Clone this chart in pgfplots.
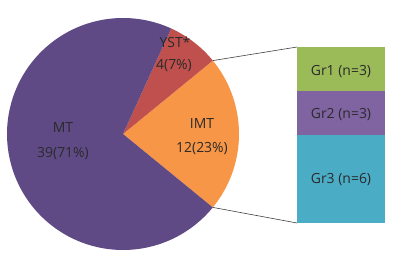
\documentclass[border=0pt]{standalone}
\usepackage{pgfplots}
\pgfplotsset{compat=1.18}
\usepackage{fontspec}
\setmainfont{Open Sans}
\definecolor{mtc}{HTML}{5F4A85}
\definecolor{ystc}{HTML}{C0504D}
\definecolor{imtc}{HTML}{F79646}
\definecolor{gra}{HTML}{9BBB59}
\definecolor{grb}{HTML}{8064A2}
\definecolor{grc}{HTML}{4BACC6}
\definecolor{txt}{HTML}{2A2A2A}
% pie values
\def\vMT{39}
\def\vIMT{12}
\def\vYST{4}
\pgfmathsetmacro{\tot}{\vMT+\vIMT+\vYST}
\pgfmathsetmacro{\aA}{-180*\vIMT/\tot}
\pgfmathsetmacro{\aB}{180*\vIMT/\tot}
\pgfmathsetmacro{\aC}{\aB+360*\vYST/\tot}
\pgfmathsetmacro{\aD}{\aA+360}
\begin{document}
\begin{tikzpicture}[font=\fontsize{14}{16}\selectfont]
\useasboundingbox (0,0) rectangle (411bp,258bp);
\begin{axis}[scale only axis, at={(297bp,35bp)}, anchor=south west, width=88bp, height=176bp,
  xmin=-0.5, xmax=0.5, ymin=0, ymax=12, hide axis, ybar stacked, bar width=88bp, clip=false]
\addplot[fill=grc, draw=none] coordinates {(0,6)};
\addplot[fill=grb, draw=none] coordinates {(0,3)};
\addplot[fill=gra, draw=none] coordinates {(0,3)};
\end{axis}
\begin{axis}[scale only axis, width=411bp, height=258bp, xmin=0, xmax=411, ymin=0, ymax=258,
  hide axis, clip=false, anchor=south west, at={(0,0)}]
\addplot[fill=imtc, draw=none, domain=\aA:\aB, samples=80] ({123+116*cos(x)},{124+116*sin(x)}) -- (123,124) -- cycle;
\addplot[fill=ystc, draw=none, domain=\aB:\aC, samples=40] ({123+116*cos(x)},{124+116*sin(x)}) -- (123,124) -- cycle;
\addplot[fill=mtc, draw=none, domain=\aC:\aD, samples=200] ({123+116*cos(x)},{124+116*sin(x)}) -- (123,124) -- cycle;
\addplot[draw=black!75, line width=0.6pt] coordinates {(212.8,197.4) (297,211)};
\addplot[draw=black!75, line width=0.6pt] coordinates {(212.8,50.6) (297,35)};
\node[txt] at (axis cs:63,130) {MT};
\node[txt] at (axis cs:63,104) {39(71\%)};
\node[txt] at (axis cs:202,134) {IMT};
\node[txt] at (axis cs:202,109) {12(23\%)};
\node[txt] at (axis cs:175,216) {YST*};
\node[txt] at (axis cs:174,192) {4(7\%)};
\node[txt] at (axis cs:341,186) {Gr1 (n=3)};
\node[txt] at (axis cs:341,143) {Gr2 (n=3)};
\node[txt] at (axis cs:341,78) {Gr3 (n=6)};
\end{axis}
\end{tikzpicture}
\end{document}
